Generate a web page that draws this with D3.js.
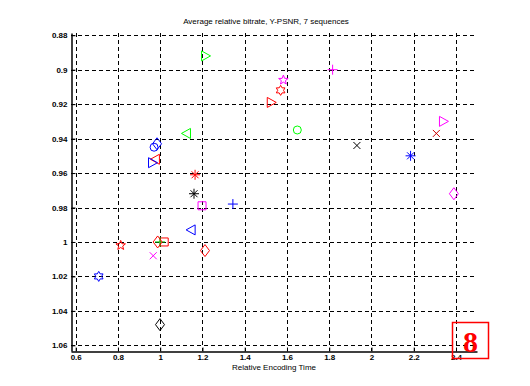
<!DOCTYPE html>
<html>
<head>
<meta charset="utf-8">
<script src="https://cdn.jsdelivr.net/npm/d3@7"></script>
<style>
  body { margin: 0; background: #fff; }
  svg { display: block; }
</style>
</head>
<body>
<div id="chart"></div>
<script>
// --- Data ---
const relTime = [1.217, 1.122, 0.971, 0.985, 0.975, 0.966, 1.583, 1.570, 1.528, 1.649,
                 1.816, 1.931, 2.185, 2.343, 2.307, 2.390, 1.165, 1.160, 1.198, 1.344,
                 1.144, 1.212, 1.019, 0.999, 0.988, 0.813, 0.967, 0.709, 0.999];
const relBitrate = [0.892, 0.937, 0.945, 0.943, 0.952, 0.954, 0.906, 0.912, 0.919, 0.935,
                    0.900, 0.944, 0.950, 0.930, 0.937, 0.972, 0.961, 0.972, 0.979, 0.978,
                    0.993, 1.005, 1.000, 1.000, 1.000, 1.002, 1.008, 1.020, 1.048];
const markerShape = ["tri-r", "tri-l", "circle", "diamond", "tri-l", "tri-r", "pentagram", "hexagram", "tri-r", "circle",
                     "plus", "cross", "star", "tri-r", "cross", "diamond", "star", "star", "square", "plus",
                     "tri-l", "diamond", "square", "plus", "diamond", "pentagram", "cross", "hexagram", "diamond"];
const markerColor = ["#00ff00", "#00ff00", "#0000ff", "#0000ff", "#ff0000", "#0000ff", "#ff00ff", "#ff0000", "#ff0000", "#00ff00",
                     "#ff00ff", "#000000", "#0000ff", "#ff00ff", "#cc0000", "#ff00ff", "#ff0000", "#000000", "#ff00ff", "#0000ff",
                     "#0000ff", "#ff0000", "#ff0000", "#00cc00", "#ff0000", "#ff0000", "#ff00ff", "#0000ff", "#000000"];

const xTicks = [0.6, 0.8, 1, 1.2, 1.4, 1.6, 1.8, 2, 2.2, 2.4];
const yTicks = [0.88, 0.9, 0.92, 0.94, 0.96, 0.98, 1, 1.02, 1.04, 1.06];

// --- Layout ---
const width = 530, height = 386;
const plot = { left: 71, right: 477, top: 33, bottom: 351 };

const x = d3.scaleLinear().domain([0.5778, 2.4994]).range([plot.left, plot.right]);
const y = d3.scaleLinear().domain([0.8787, 1.0633]).range([plot.top, plot.bottom]);

const svg = d3.select("#chart").append("svg")
    .attr("width", width)
    .attr("height", height);

// --- Grid (dashed) ---
const grid = svg.append("g").attr("stroke", "#000").attr("stroke-width", 1)
    .attr("stroke-dasharray", "4,3").attr("shape-rendering", "crispEdges");

grid.selectAll(".vg").data(xTicks).enter().append("line")
    .attr("x1", d => Math.round(x(d)) + 0.5).attr("x2", d => Math.round(x(d)) + 0.5)
    .attr("y1", plot.top).attr("y2", plot.bottom);

grid.selectAll(".hg").data(yTicks).enter().append("line")
    .attr("y1", d => Math.round(y(d)) + 0.5).attr("y2", d => Math.round(y(d)) + 0.5)
    .attr("x1", plot.left).attr("x2", plot.right);

// --- Axes (MATLAB style: ticks inward) ---
const font = "Liberation Sans, Arial, sans-serif";

const xAxis = svg.append("g")
    .attr("transform", `translate(0, ${plot.bottom + 0.5})`)
    .call(d3.axisBottom(x).tickValues(xTicks).tickSize(-4).tickSizeOuter(0).tickPadding(3).tickFormat(d3.format("")));

const yAxis = svg.append("g")
    .attr("transform", `translate(${plot.left + 0.5}, 0)`)
    .call(d3.axisLeft(y).tickValues(yTicks).tickSize(-4).tickSizeOuter(0).tickPadding(4).tickFormat(d3.format("")));

[xAxis, yAxis].forEach(g => {
    g.select(".domain").attr("stroke", "#000").attr("stroke-width", 1.5);
    g.selectAll(".tick line").attr("stroke", "#000");
    g.selectAll("text").attr("fill", "#000").attr("font-family", font)
        .attr("font-size", "8px").attr("font-weight", "bold");
});

// --- Title & label ---
svg.append("text")
    .attr("x", (plot.left + plot.right) / 2 - 8).attr("y", 24)
    .attr("text-anchor", "middle")
    .attr("font-family", font).attr("font-size", "8px")
    .text("Average relative bitrate, Y-PSNR, 7 sequences");

svg.append("text")
    .attr("x", (plot.left + plot.right) / 2).attr("y", 370)
    .attr("text-anchor", "middle")
    .attr("font-family", font).attr("font-size", "8px")
    .text("Relative Encoding Time");

// --- Marker shapes ---
function starPath(n, rOut, rIn) {
    const pts = [];
    for (let i = 0; i < 2 * n; i++) {
        const r = i % 2 === 0 ? rOut : rIn;
        const a = -Math.PI / 2 + i * Math.PI / n;
        pts.push([r * Math.cos(a), r * Math.sin(a)]);
    }
    return "M" + pts.map(p => p[0].toFixed(2) + "," + p[1].toFixed(2)).join("L") + "Z";
}

function markerPath(shape) {
    switch (shape) {
        case "circle": return "M4,0A4,4 0 1,1 -4,0A4,4 0 1,1 4,0Z";
        case "square": return "M-4,-4L4,-4L4,4L-4,4Z";
        case "diamond": return "M0,-6L4.5,0L0,6L-4.5,0Z";
        case "tri-r": return "M-4.5,-5L4.5,0L-4.5,5Z";
        case "tri-l": return "M4.5,-5L-4.5,0L4.5,5Z";
        case "plus": return "M-5,0L5,0M0,-5L0,5";
        case "cross": return "M-3.5,-3.5L3.5,3.5M-3.5,3.5L3.5,-3.5";
        case "star": return "M-5,0L5,0M0,-5L0,5M-3.5,-3.5L3.5,3.5M-3.5,3.5L3.5,-3.5";
        case "pentagram": return starPath(5, 5, 2.1);
        case "hexagram": return starPath(6, 5, 2.9);
    }
}

const points = relTime.map((t, i) => ({
    t: t, b: relBitrate[i], shape: markerShape[i], color: markerColor[i]
}));

svg.append("g").selectAll("path")
    .data(points)
    .enter()
    .append("path")
    .attr("transform", d => `translate(${x(d.t)}, ${y(d.b)})`)
    .attr("d", d => markerPath(d.shape))
    .attr("fill", "none")
    .attr("stroke", d => d.color)
    .attr("stroke-width", 1);

// --- Page number box ---
svg.append("rect")
    .attr("x", 452.5).attr("y", 322.5)
    .attr("width", 36).attr("height", 36)
    .attr("fill", "none").attr("stroke", "#ff0000").attr("stroke-width", 1.5);

svg.append("text")
    .attr("x", 470.5).attr("y", 352)
    .attr("text-anchor", "middle")
    .attr("font-family", "Liberation Serif, Times New Roman, serif")
    .attr("font-weight", "bold").attr("font-size", "30px")
    .attr("fill", "#ff0000")
    .text("8");
</script>
</body>
</html>
